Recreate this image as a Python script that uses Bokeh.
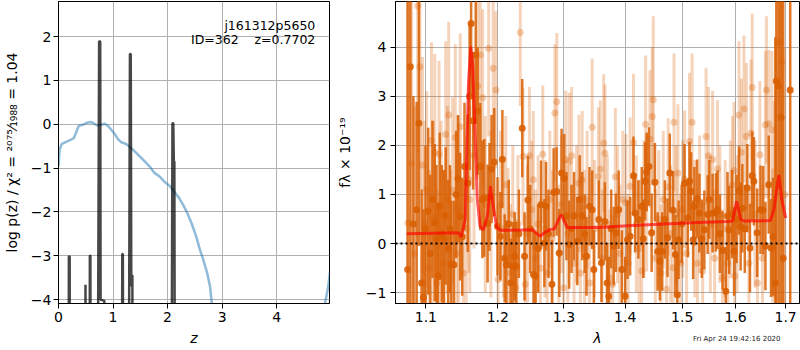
from bokeh.plotting import figure
from bokeh.layouts import row, column
from bokeh.models import (ColumnDataSource, FixedTicker, CustomJSTickFormatter,
                          Label, Range1d, Span, Div)
from bokeh.embed import file_html
from bokeh.resources import INLINE

FONT = "DejaVu Sans"

# ---------------- left panel: log p(z) ----------------
pz_z = [0.0, 0.02, 0.06, 0.11, 0.20, 0.28, 0.32, 0.37, 0.45, 0.54, 0.60, 0.66,
        0.72, 0.78, 0.85, 0.91, 0.97, 1.03, 1.09, 1.15, 1.24, 1.33, 1.43, 1.55,
        1.67, 1.76, 1.86, 1.95, 2.04, 2.13, 2.21, 2.28, 2.36, 2.44, 2.52, 2.59,
        2.65, 2.73, 2.78, 2.81, 2.84, 4.86, 4.89, 4.94, 4.98]
pz_logp = [-0.96, -0.58, -0.45, -0.42, -0.37, -0.32, -0.20, -0.04, -0.01, 0.04,
           0.05, 0.01, -0.03, -0.01, 0.01, -0.04, -0.13, -0.22, -0.34, -0.41,
           -0.45, -0.54, -0.66, -0.81, -0.96, -1.11, -1.20, -1.32, -1.41, -1.55,
           -1.68, -1.83, -2.02, -2.26, -2.54, -2.85, -3.07, -3.41, -3.71, -4.07,
           -4.35, -4.35, -4.07, -3.75, -3.37]

chi_z = [0.0, 0.185, 0.19, 0.205, 0.21, 0.49, 0.495, 0.505, 0.57, 0.575, 0.585,
         0.59, 0.715, 0.73, 0.745, 0.765, 0.772, 0.84, 0.845, 1.16, 1.17, 1.18,
         1.19, 1.285, 1.30, 1.31, 1.325, 1.335, 1.345, 1.355, 1.36, 2.07, 2.09,
         2.105, 2.115, 2.125, 2.135, 5.0]
chi_logp = [-8, -8, -3.02, -3.02, -8, -8, -3.66, -8, -8, -3.0, -3.0,
            -8, -8, -3.3, 1.9, 1.88, -4.0, -4.03, -8, -8, -2.96, -2.96,
            -8, -8, -2.5, 1.6, 1.6, -3.7, -3.45, -3.45, -8, -8, 0.02,
            0.02, -0.85, -0.85, -8, -8]

z_ticks = [0, 1, 2, 3, 4]
lp_ticks = [-4, -3, -2, -1, 0, 1, 2]

# ---------------- right panel: spectrum ----------------
dark_wave = [1.0760, 1.0795, 1.0835, 1.0878, 1.0908, 1.0943, 1.0968, 1.0995, 1.1031, 1.1060,
             1.1088, 1.1119, 1.1142, 1.1164, 1.1186, 1.1215, 1.1244, 1.1267, 1.1300, 1.1325,
             1.1344, 1.1380, 1.1410, 1.1435, 1.1465, 1.1495, 1.1526, 1.1572, 1.1598, 1.1619,
             1.1647, 1.1684, 1.1712, 1.1749, 1.1778, 1.1806, 1.1853, 1.1880, 1.1910, 1.1948,
             1.1996, 1.2038, 1.2067, 1.2100, 1.2125, 1.2160, 1.2190, 1.2223, 1.2247, 1.2272,
             1.2310, 1.2360, 1.2395, 1.2445, 1.2480, 1.2530, 1.2560, 1.2600, 1.2645, 1.2696,
             1.2721, 1.2760, 1.2813, 1.2839, 1.2885, 1.2927, 1.2963, 1.3004, 1.3040, 1.3082,
             1.3120, 1.3160, 1.3212, 1.3250, 1.3291, 1.3330, 1.3360, 1.3408, 1.3452, 1.3479,
             1.3561, 1.3604, 1.3659, 1.3697, 1.3724, 1.3765, 1.3807, 1.3844, 1.3890, 1.3944,
             1.4000, 1.4039, 1.4084, 1.4141, 1.4169, 1.4226, 1.4283, 1.4310, 1.4340, 1.4369,
             1.4409, 1.4455, 1.4513, 1.4560, 1.4600, 1.4641, 1.4688, 1.4735, 1.4776, 1.4835,
             1.4876, 1.4911, 1.4935, 1.4990, 1.5042, 1.5103, 1.5133, 1.5163, 1.5200, 1.5223,
             1.5272, 1.5315, 1.5360, 1.5407, 1.5469, 1.5500, 1.5562, 1.5624, 1.5655, 1.5700,
             1.5750, 1.5812, 1.5845, 1.5876, 1.5930, 1.5971, 1.6020, 1.6067, 1.6099, 1.6132,
             1.6180, 1.6229, 1.6281, 1.6326, 1.6359, 1.6424, 1.6490, 1.6543, 1.6589, 1.6655,
             1.6702, 1.6742, 1.6789, 1.6809, 1.6857, 1.6904, 1.6950, 1.7094]
dark_flux = [-0.53, 3.60, 0.40, 0.69, 2.45, -0.80, -1.10, 0.30, 0.66, -0.20,
             0.90, 0.43, 0.10, -0.66, 0.76, 0.20, 0.10, 0.56, -0.10, 0.30,
             -0.43, -0.43, 1.00, 1.32, 0.55, 0.14, 1.57, 1.23, 3.00, 4.48,
             2.50, 3.84, 2.70, 1.57, 0.90, 0.93, 0.41, 0.95, 1.52, 1.66,
             0.35, 0.15, 1.72, -0.30, -0.43, 0.40, -0.80, -0.46, -0.26, -0.46,
             0.20, 2.35, -0.26, 0.89, 0.30, -0.63, -0.66, -0.10, 0.79, 0.01,
             0.76, 0.20, -0.83, 1.04, 1.06, -0.19, 1.44, 1.33, 0.56, -0.02,
             0.30, 0.56, 0.05, 0.90, 0.56, 0.20, -0.26, 0.76, 0.69, -0.53,
             0.49, -0.39, 0.45, -0.80, -1.07, 0.30, -0.05, 0.22, 0.69, -0.53,
             -1.07, 0.08, 0.15, 1.38, 0.62, 0.49, 0.76, 0.10, 1.27, 1.46,
             1.57, 0.22, 1.25, -0.16, -0.36, -0.16, 0.49, 0.12, 1.44, 0.68,
             -0.22, -1.04, 0.08, 0.40, 1.23, 0.52, 1.27, 1.06, 0.08, 0.76,
             0.91, 0.62, 0.10, 0.28, 0.59, 0.90, 0.62, 0.64, 0.69, 0.20,
             -0.14, -0.97, 0.56, 0.28, 0.60, -0.16, 0.50, 1.08, 0.35, 0.72,
             0.30, 1.13, -0.09, 1.38, 1.27, 0.22, 0.69, 0.68, -0.05, 1.20,
             -0.09, 0.14, -0.80, 3.31, 3.21, 2.57, -0.30, 3.13]
dark_err = [6.0, 6.0, 2.6, 2.2, 2.5, 1.9, 1.8, 1.7, 1.7, 1.6,
            1.6, 1.6, 1.5, 1.5, 1.5, 1.4, 1.4, 1.4, 1.4, 1.3,
            1.3, 1.3, 1.3, 1.3, 1.3, 1.2, 1.3, 1.4, 1.5, 1.5,
            1.4, 1.4, 1.3, 1.3, 1.2, 1.2, 1.2, 1.1, 1.1, 1.1,
            1.0, 0.9, 1.0, 0.9, 0.9, 0.9, 0.9, 0.9, 0.9, 0.9,
            0.9, 1.0, 0.9, 0.9, 0.9, 0.9, 0.9, 0.9, 0.9, 0.9,
            0.9, 0.9, 0.9, 0.9, 0.9, 0.9, 0.9, 0.9, 0.9, 0.9,
            0.9, 0.9, 0.9, 0.9, 0.9, 0.8, 0.8, 0.8, 0.8, 0.8,
            0.8, 0.8, 0.8, 0.8, 0.8, 0.8, 0.8, 0.8, 0.8, 0.8,
            0.8, 0.8, 0.8, 0.8, 0.8, 0.8, 0.8, 0.8, 0.8, 0.8,
            0.8, 0.8, 0.8, 0.8, 0.8, 0.8, 0.8, 0.8, 0.8, 0.8,
            0.8, 0.8, 0.8, 0.8, 0.8, 0.8, 0.8, 0.8, 0.8, 0.8,
            0.8, 0.8, 0.8, 0.8, 0.8, 0.8, 0.8, 0.8, 0.8, 0.8,
            0.8, 0.9, 0.9, 0.9, 0.9, 0.9, 0.9, 0.9, 0.9, 0.9,
            0.9, 0.9, 0.9, 0.9, 0.9, 0.9, 0.9, 0.9, 0.9, 1.0,
            1.0, 1.2, 5.0, 6.0, 6.0, 6.0, 6.0, 6.0]

light_wave = [1.0762, 1.0812, 1.0850, 1.0891, 1.0921, 1.0955, 1.0985, 1.1010, 1.1045, 1.1075,
              1.1100, 1.1119, 1.1150, 1.1176, 1.1205, 1.1235, 1.1267, 1.1290, 1.1308, 1.1335,
              1.1362, 1.1398, 1.1420, 1.1445, 1.1467, 1.1510, 1.1550, 1.1585, 1.1600, 1.1660,
              1.1712, 1.1749, 1.1782, 1.1820, 1.1868, 1.1900, 1.1933, 1.1972, 1.2004, 1.2040,
              1.2080, 1.2115, 1.2150, 1.2185, 1.2220, 1.2260, 1.2295, 1.2331, 1.2372, 1.2404,
              1.2440, 1.2468, 1.2504, 1.2527, 1.2560, 1.2600, 1.2635, 1.2671, 1.2705, 1.2740,
              1.2780, 1.2820, 1.2858, 1.2888, 1.2920, 1.2960, 1.2995, 1.3029, 1.3060, 1.3082,
              1.3121, 1.3160, 1.3200, 1.3238, 1.3261, 1.3291, 1.3330, 1.3370, 1.3410, 1.3452,
              1.3490, 1.3552, 1.3585, 1.3615, 1.3640, 1.3662, 1.3700, 1.3745, 1.3790, 1.3834,
              1.3870, 1.3910, 1.3960, 1.4012, 1.4050, 1.4084, 1.4141, 1.4190, 1.4240, 1.4283,
              1.4320, 1.4350, 1.4369, 1.4425, 1.4466, 1.4484, 1.4520, 1.4580, 1.4620, 1.4660,
              1.4718, 1.4747, 1.4790, 1.4835, 1.4852, 1.4890, 1.4923, 1.4970, 1.5010, 1.5042,
              1.5080, 1.5133, 1.5181, 1.5230, 1.5280, 1.5320, 1.5376, 1.5439, 1.5483, 1.5520,
              1.5562, 1.5600, 1.5655, 1.5700, 1.5750, 1.5800, 1.5850, 1.5900, 1.5940, 1.5971,
              1.5985, 1.6030, 1.6067, 1.6112, 1.6163, 1.6211, 1.6260, 1.6302, 1.6326, 1.6380,
              1.6430, 1.6478, 1.6530, 1.6589, 1.6609, 1.6655, 1.6720, 1.6735, 1.6770, 1.6836,
              1.6889, 1.6921, 1.6980]
light_flux = [0.42, 1.63, -0.20, 4.84, 3.60, 1.60, 0.40, 1.10, -0.50, 2.10,
              0.50, 1.86, -0.80, 1.82, 0.60, -0.40, 2.22, 0.90, 2.62, -0.40,
              1.08, 2.16, -0.20, 0.70, 2.38, -0.60, 0.30, 1.30, 0.90, 1.80,
              3.21, 3.84, 2.97, 0.80, 3.98, 0.60, 3.57, 3.13, -0.73, 0.80,
              0.30, 1.20, 0.14, -0.60, 0.60, -0.90, 0.40, 4.30, 1.78, -0.83,
              0.20, 1.79, 0.69, 1.30, -0.30, 0.40, -0.50, 1.82, 0.30, -0.60,
              0.90, 0.10, 2.66, 2.89, -0.20, 0.80, -0.90, 1.71, 0.20, 1.67,
              1.79, -0.40, 0.60, 1.23, -0.60, 1.30, 0.10, 0.90, -0.80, 2.37,
              0.30, 1.37, 1.52, -0.30, 2.05, 1.84, 0.40, -0.70, -0.83, 1.36,
              0.60, -0.20, 0.90, 0.83, -0.40, 1.17, 2.06, 0.40, -0.10, -0.56,
              0.70, 2.43, 0.83, 2.13, 2.59, 2.93, -0.30, 0.50, -0.60, 0.90,
              -0.93, 1.15, 0.20, -0.49, 2.47, 0.60, 1.44, -0.40, 0.70, 1.31,
              -0.20, 2.08, 2.47, 0.30, -0.40, 0.80, -0.56, 2.18, 1.79, 0.40,
              1.71, -0.30, 1.52, 0.60, -0.70, 0.30, -0.40, 0.70, 1.20, 1.49,
              -0.66, 0.40, 2.62, 1.86, 2.74, 2.18, -0.40, 2.25, 3.18, 0.60,
              -0.80, 1.81, -0.30, 2.42, 3.13, 2.44, 2.32, -0.07, 0.90, 4.09,
              4.11, 3.71, 1.00]
light_err = [6.0, 4.0, 3.0, 3.0, 2.5, 2.2, 2.1, 2.0, 2.0, 2.0,
             2.0, 2.0, 1.9, 1.9, 1.9, 1.9, 1.9, 1.9, 1.9, 1.9,
             1.9, 1.9, 1.9, 1.9, 1.9, 1.9, 1.9, 1.9, 1.9, 1.9,
             1.9, 1.8, 1.8, 1.8, 1.8, 1.7, 1.6, 1.6, 1.5, 1.5,
             1.4, 1.4, 1.4, 1.4, 1.4, 1.4, 1.4, 1.5, 1.4, 1.4,
             1.4, 1.4, 1.4, 1.4, 1.4, 1.4, 1.4, 1.4, 1.4, 1.4,
             1.4, 1.4, 1.4, 1.4, 1.4, 1.4, 1.4, 1.4, 1.4, 1.4,
             1.4, 1.4, 1.4, 1.4, 1.4, 1.4, 1.4, 1.4, 1.4, 1.4,
             1.4, 1.4, 1.4, 1.4, 1.4, 1.4, 1.4, 1.4, 1.4, 1.4,
             1.4, 1.4, 1.4, 1.4, 1.4, 1.4, 1.4, 1.4, 1.4, 1.4,
             1.4, 1.4, 1.4, 1.4, 1.4, 1.7, 1.4, 1.4, 1.4, 1.4,
             1.4, 1.4, 1.4, 1.4, 1.4, 1.4, 1.4, 1.4, 1.4, 1.4,
             1.4, 1.4, 1.4, 1.4, 1.4, 1.4, 1.4, 1.4, 1.4, 1.4,
             1.4, 1.4, 1.4, 1.4, 1.4, 1.4, 1.4, 1.4, 1.4, 1.4,
             1.4, 1.4, 1.5, 1.5, 1.5, 1.5, 1.5, 1.5, 1.5, 1.5,
             1.5, 1.5, 1.5, 1.5, 1.5, 1.5, 1.6, 1.6, 2.0, 3.0,
             3.0, 3.0, 3.0]

model_wave = [1.0749, 1.1444, 1.1481, 1.1536, 1.1582, 1.1614, 1.1641, 1.1675, 1.1707,
              1.1745, 1.1792, 1.1848, 1.1895, 1.1934, 1.1981, 1.2030, 1.2520, 1.2569,
              1.2630, 1.2696, 1.2773, 1.2849, 1.2916, 1.2958, 1.2993, 1.3056, 1.3134,
              1.3561, 1.4113, 1.4688, 1.5288, 1.5847, 1.5942, 1.6020, 1.6102, 1.6166,
              1.6691, 1.6760, 1.6860, 1.6920, 1.7000]
model_flux = [0.20, 0.22, 0.14, 0.49, 3.27, 4.01, 3.60, 2.25, 0.90,
              0.35, 0.28, 0.56, 1.17, 0.76, 0.35, 0.27, 0.28, 0.22,
              0.15, 0.22, 0.28, 0.30, 0.49, 0.59, 0.49, 0.32, 0.33,
              0.33, 0.37, 0.40, 0.43, 0.45, 0.46, 0.86, 0.49, 0.46,
              0.47, 0.70, 1.40, 0.90, 0.52]

wave_ticks = [1.1, 1.2, 1.3, 1.4, 1.5, 1.6, 1.7]
flux_ticks = [-1, 0, 1, 2, 3, 4]

ORANGE = "#d95f02"
MINUS_FMT = "return tick < 0 ? '\u2212' + Math.abs(tick) : String(tick);"


def style(p):
    p.outline_line_color = "black"
    p.outline_line_alpha = 1.0
    p.outline_line_width = 1
    p.background_fill_color = "white"
    p.border_fill_color = "white"
    for ax in p.axis:
        ax.axis_line_color = "black"
        ax.major_tick_out = 5
        ax.major_tick_in = 0
        ax.minor_tick_out = 0
        ax.minor_tick_in = 0
        ax.major_tick_line_color = "black"
        ax.major_label_text_font = FONT
        ax.major_label_text_font_size = "14px"
        ax.major_label_text_color = "black"
        ax.major_label_standoff = 3
        ax.axis_label_text_font = FONT
        ax.axis_label_text_font_size = "14px"
        ax.axis_label_text_color = "black"
        ax.axis_label_text_font_style = "normal"
    for g in p.grid:
        g.grid_line_color = "#b0b0b0"
        g.grid_line_width = 1


# ---------- left figure ----------
p1 = figure(frame_width=271, frame_height=302, output_backend="svg",
            toolbar_location=None,
            x_range=Range1d(0, 4.97), y_range=Range1d(-4.09, 2.8),
            min_border_left=50, min_border_right=4, min_border_top=1,
            min_border_bottom=46)
style(p1)
p1.xaxis.ticker = FixedTicker(ticks=z_ticks, minor_ticks=[])
p1.yaxis.ticker = FixedTicker(ticks=lp_ticks, minor_ticks=[])
p1.yaxis.formatter = CustomJSTickFormatter(code=MINUS_FMT)
p1.yaxis.major_label_standoff = 2
p1.xaxis.axis_label = "z"
p1.xaxis.axis_label_text_font_style = "italic"
p1.xaxis.axis_label_standoff = 5
p1.yaxis.axis_label = "log p(z) / \u03c7\u00b2 = \u00b2\u2070\u2077\u2075\u2044\u2081\u2089\u2088\u2088 = 1.04"
p1.yaxis.axis_label_standoff = 8

p1.line(pz_z, pz_logp, line_color="#1f77b4", line_alpha=0.5, line_width=2.5)
p1.line(chi_z, chi_logp, line_color="black", line_alpha=0.72, line_width=2.5)

p1.add_layout(Label(x=4.71, y=2.252, text="j161312p5650", text_align="right",
                    text_baseline="alphabetic", text_font=FONT,
                    text_font_size="12.5px", text_color="black"))
p1.add_layout(Label(x=4.71, y=1.932, text="ID=362\u00a0\u00a0\u00a0\u00a0z=0.7702",
                    text_align="right", text_baseline="alphabetic", text_font=FONT,
                    text_font_size="12.5px", text_color="black"))

# ---------- right figure ----------
p2 = figure(frame_width=404, frame_height=302, output_backend="svg",
            toolbar_location=None,
            x_axis_type="log", x_range=Range1d(1.0603, 1.7287),
            y_range=Range1d(-1.22, 4.93),
            min_border_left=54, min_border_right=1, min_border_top=1,
            min_border_bottom=46)
style(p2)
p2.xaxis.ticker = FixedTicker(ticks=wave_ticks, minor_ticks=[])
p2.xaxis.formatter = CustomJSTickFormatter(code="return tick.toFixed(1);")
p2.yaxis.ticker = FixedTicker(ticks=flux_ticks, minor_ticks=[])
p2.yaxis.formatter = CustomJSTickFormatter(code=MINUS_FMT)
p2.yaxis.major_label_standoff = 4
p2.xaxis.axis_label = "\u03bb"
p2.xaxis.axis_label_text_font_style = "italic"
p2.xaxis.axis_label_standoff = 5
p2.yaxis.axis_label = "f\u03bb \u00d7 10\u207b\u00b9\u2079"
p2.yaxis.axis_label_standoff = 10

light = ColumnDataSource(dict(
    w=light_wave, f=light_flux,
    lo=[f - e for f, e in zip(light_flux, light_err)],
    hi=[f + e for f, e in zip(light_flux, light_err)]))
dark = ColumnDataSource(dict(
    w=dark_wave, f=dark_flux,
    lo=[f - e for f, e in zip(dark_flux, dark_err)],
    hi=[f + e for f, e in zip(dark_flux, dark_err)]))

p2.segment(x0="w", y0="lo", x1="w", y1="hi", source=light, line_color=ORANGE,
           line_alpha=0.27, line_width=3)
p2.scatter(x="w", y="f", source=light, size=7, fill_color=ORANGE, fill_alpha=0.3,
           line_color=None)
p2.segment(x0="w", y0="lo", x1="w", y1="hi", source=dark, line_color=ORANGE,
           line_alpha=0.85, line_width=2.5)
p2.scatter(x="w", y="f", source=dark, size=7, fill_color=ORANGE, fill_alpha=0.9,
           line_color=None)
p2.line(model_wave, model_flux, line_color="red", line_alpha=0.65, line_width=3)
p2.add_layout(Span(location=0, dimension="width", line_color="black",
                   line_dash="2 3", line_width=2))

stamp = Div(text="Fri Apr 24 19:42:16 2020", margin=(-14, 0, 0, 693),
            styles={"font-size": "7px", "font-family": FONT, "line-height": "8px",
                    "color": "#222222", "white-space": "nowrap"})

layout = column(row(p1, p2), stamp)
open("out.html", "w").write(file_html(layout, INLINE))
